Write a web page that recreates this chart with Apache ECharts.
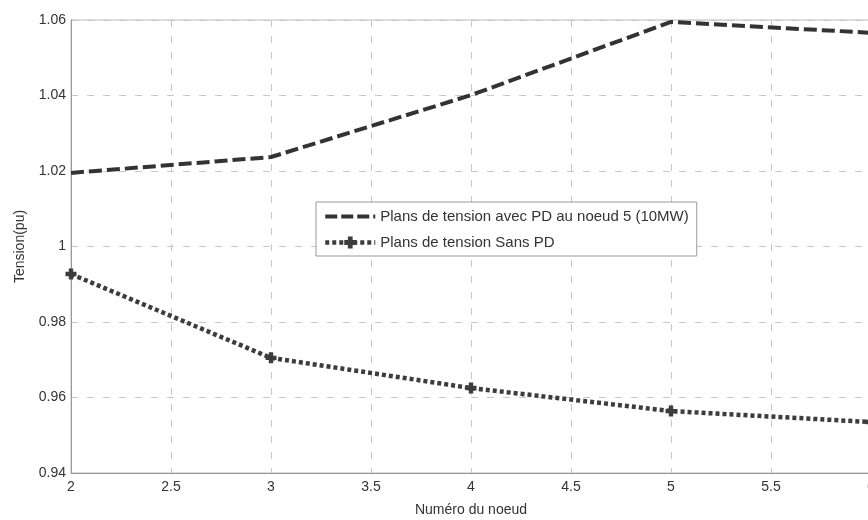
<!DOCTYPE html>
<html>
<head>
<meta charset="utf-8">
<script src="https://cdn.jsdelivr.net/npm/echarts@6/dist/echarts.min.js"></script>
<style>
  html, body { margin: 0; padding: 0; background: #fff; }
  #chart { width: 868px; height: 520px; }
</style>
</head>
<body>
<div id="chart"></div>
<script>
// node numbers and voltages (pu)
const noeuds = [2, 3, 4, 5, 6];
const avecPD = [1.0195, 1.0237, 1.0401, 1.0595, 1.0566];
const sansPD = [0.9927, 0.9705, 0.9625, 0.9564, 0.9535];
const nomAvec = 'Plans de tension avec PD au noeud 5 (10MW)';
const nomSans = 'Plans de tension Sans PD';

const chart = echarts.init(document.getElementById('chart'));
const font = 'Liberation Sans, Arial, sans-serif';
const croix = 'path://M3,0h4v3h3v4h-3v3h-4v-3h-3v-4h3z';

chart.setOption({
  animation: false,
  textStyle: { fontFamily: font },
  grid: {
    left: 71, right: -3, top: 20, bottom: 47,
    outerBoundsMode: 'none',
    show: true, borderColor: '#bbb', borderWidth: 1
  },
  legend: {
    orient: 'vertical',
    left: 316, top: 202,
    padding: [7, 8, 6, 7],
    itemGap: 11,
    itemWidth: 50, itemHeight: 15,
    borderColor: '#999', borderWidth: 1,
    backgroundColor: '#fff',
    textStyle: { fontFamily: font, fontSize: 15, color: '#333' },
    data: [
      { name: nomAvec, itemStyle: { opacity: 0 }, lineStyle: { width: 4, type: [12, 4] } },
      { name: nomSans, lineStyle: { width: 4.5, type: [4, 3] } }
    ]
  },
  xAxis: {
    type: 'value', min: 2, max: 6, interval: 0.5,
    name: 'Numéro du noeud', nameLocation: 'middle', nameGap: 30,
    nameTextStyle: { fontSize: 14, color: '#333' },
    axisLine: { show: true, lineStyle: { color: '#999' } },
    axisTick: { show: false },
    axisLabel: { color: '#333', fontSize: 14, margin: 7 },
    splitLine: { show: true, lineStyle: { color: '#c8c8c8', type: [7, 9] } }
  },
  yAxis: {
    type: 'value', min: 0.94, max: 1.06, interval: 0.02,
    name: 'Tension(pu)', nameLocation: 'middle', nameGap: 44,
    nameTextStyle: { fontSize: 14, color: '#333' },
    axisLine: { show: true, lineStyle: { color: '#999' } },
    axisTick: { show: false },
    axisLabel: { color: '#333', fontSize: 14, margin: 5, formatter: v => String(+v.toFixed(2)) },
    splitLine: { show: true, lineStyle: { color: '#c8c8c8', type: [7, 9] } }
  },
  series: [
    {
      name: nomAvec,
      type: 'line',
      data: noeuds.map((x, i) => [x, avecPD[i]]),
      symbol: 'none',
      lineStyle: { color: '#333', width: 4, type: [13, 5] },
      itemStyle: { color: '#333' }
    },
    {
      name: nomSans,
      type: 'line',
      data: noeuds.map((x, i) => [x, sansPD[i]]),
      symbol: croix, symbolSize: 11,
      lineStyle: { color: '#3c3c3c', width: 4.5, type: [4, 3] },
      itemStyle: { color: '#3c3c3c' }
    }
  ]
});
</script>
</body>
</html>
